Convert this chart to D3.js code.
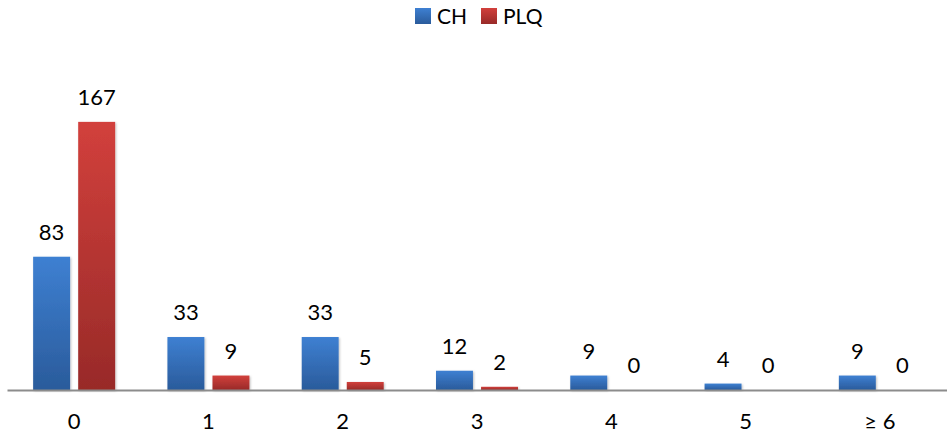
<!DOCTYPE html>
<html>
<head>
<meta charset="utf-8">
<title>CH / PLQ</title>
<style>
  body { margin: 0; background: #fff; }
  text { font-family: Lato, "Open Sans", sans-serif; fill: #000; }
</style>
</head>
<body>
<script src="https://cdn.jsdelivr.net/npm/d3@7"></script>
<script>
var categories = ["0", "1", "2", "3", "4", "5", "\u2265 6"];
var seriesNames = ["CH", "PLQ"];
var chValues = [83, 33, 33, 12, 9, 4, 9];
var plqValues = [167, 9, 5, 2, 0, 0, 0];

function main() {
    var width = 947, height = 437;
    var svg = d3.select("body").append("svg")
        .attr("width", width)
        .attr("height", height);

    // gradients for bars
    var defs = svg.append("defs");
    var grads = [["gBlue", "#3e80d2", "#2a5b9b"], ["gRed", "#d2403c", "#982a28"]];
    grads.forEach(function (g) {
        var lg = defs.append("linearGradient").attr("id", g[0])
            .attr("x1", 0).attr("y1", 0).attr("x2", 0).attr("y2", 1);
        lg.append("stop").attr("offset", "0%").attr("stop-color", g[1]);
        lg.append("stop").attr("offset", "100%").attr("stop-color", g[2]);
    });
    var shadow = defs.append("filter").attr("id", "sh")
        .attr("x", "-20%").attr("y", "-20%").attr("width", "140%").attr("height", "140%");
    shadow.append("feDropShadow").attr("dx", 1).attr("dy", 1)
        .attr("stdDeviation", 1.2).attr("flood-color", "#000").attr("flood-opacity", 0.25);

    var x = d3.scaleBand().domain(categories).range([7, 947]);
    var x1 = d3.scaleBand().domain(seriesNames).range([-41, 41]).paddingInner(0.18).paddingOuter(0);
    var y = d3.scaleLinear().domain([0, 180]).range([390, 101]);

    var series = [
        { name: "CH", values: chValues, fill: "url(#gBlue)" },
        { name: "PLQ", values: plqValues, fill: "url(#gRed)" }
    ];

    series.forEach(function (s) {
        var g = svg.append("g");
        g.selectAll("rect").data(s.values).enter().append("rect")
            .attr("x", function (d, i) { return x(categories[i]) + x.bandwidth() / 2 + x1(s.name); })
            .attr("y", function (d) { return y(d); })
            .attr("width", x1.bandwidth())
            .attr("height", function (d) { return y(0) - y(d); })
            .attr("fill", s.fill)
            .attr("filter", "url(#sh)");
        g.selectAll("text").data(s.values).enter().append("text")
            .attr("x", function (d, i) { return x(categories[i]) + x.bandwidth() / 2 + x1(s.name) + x1.bandwidth() / 2; })
            .attr("y", function (d) { return y(d) - 17; })
            .attr("text-anchor", "middle")
            .attr("font-size", 22)
            .text(function (d) { return d; });
    });

    // category axis
    var axis = svg.append("g").attr("transform", "translate(0,390)")
        .call(d3.axisBottom(x).tickSize(0).tickPadding(23));
    axis.select(".domain").attr("stroke", "#8c8c8c").attr("stroke-width", 2);
    axis.selectAll("text").attr("font-size", 22).attr("fill", "#000")
        .style("font-family", "Lato, 'Open Sans', sans-serif");

    // legend
    var legend = svg.append("g");
    var lx = [415, 481];
    series.forEach(function (s, i) {
        legend.append("rect").attr("x", lx[i]).attr("y", 8)
            .attr("width", 16).attr("height", 16).attr("fill", s.fill);
        legend.append("text").attr("x", lx[i] + 22).attr("y", 24)
            .attr("font-size", 21).text(s.name);
    });
}

window.onload = function () {
    main();
};
</script>
</body>
</html>
